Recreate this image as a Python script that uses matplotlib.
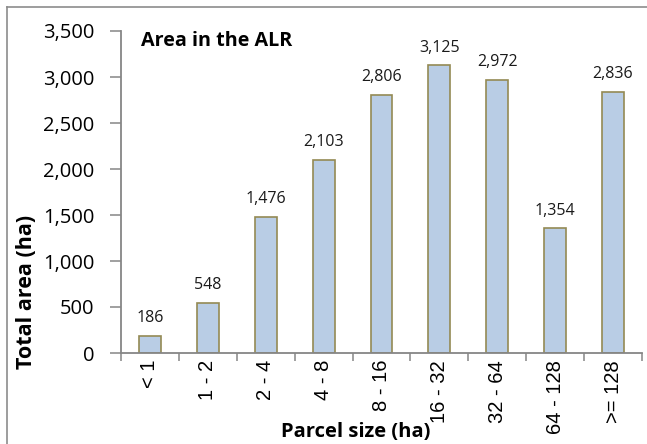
import matplotlib.pyplot as plt
from matplotlib.lines import Line2D

# Chart data
parcel_sizes = ['< 1', '1 - 2', '2 - 4', '4 - 8', '8 - 16', '16 - 32', '32 - 64', '64 - 128', '>= 128']
total_area = [186, 548, 1476, 2103, 2806, 3125, 2972, 1354, 2836]
y_ticks = [0, 500, 1000, 1500, 2000, 2500, 3000, 3500]

W, H = 647, 444
fig = plt.figure(figsize=(W / 100, H / 100), dpi=100)
ax = fig.add_axes([121 / W, 1 - 353 / H, (642 - 121) / W, (353 - 31) / H])

x = list(range(len(parcel_sizes)))
bars = ax.bar(x, total_area, width=0.38, color='#B9CDE5', edgecolor='#948A54', linewidth=1.2)

# Value labels on top of the bars
for xi, v in zip(x, total_area):
    ax.annotate(f'{v:,}', (xi, v), xytext=(0, 7), textcoords='offset points',
                ha='center', va='bottom', fontsize=11.5, family='Open Sans', color='#1a1a1a')

ax.set_xlim(-0.5, len(parcel_sizes) - 0.5)
ax.set_ylim(0, 3500)

# y axis
ax.set_yticks(y_ticks)
ax.set_yticklabels([f'{t:,}' for t in y_ticks], family='Open Sans', fontsize=14.5)
ax.tick_params(axis='y', direction='out', length=8, width=1.1, color='#868686', pad=11)

# x axis: labels at centers, ticks at boundaries
ax.set_xticks(x)
ax.set_xticklabels(parcel_sizes, rotation=90, family='Liberation Sans', fontsize=14.5)
ax.tick_params(axis='x', which='major', length=0, pad=5)
ax.set_xticks([i + 0.5 for i in range(-1, len(parcel_sizes))], minor=True)
ax.tick_params(axis='x', which='minor', direction='out', length=6, width=1.1, color='#868686')

for side in ['top', 'right']:
    ax.spines[side].set_visible(False)
for side in ['left', 'bottom']:
    ax.spines[side].set_color('#868686')
    ax.spines[side].set_linewidth(1.3)

# Titles
ax.text(141 / W, 1 - 41 / H, 'Area in the ALR', transform=fig.transFigure,
        ha='left', va='center', fontsize=14.2, fontweight='bold', family='Open Sans')
fig.text(27 / W, 1 - 292 / H, 'Total area (ha)', rotation=90, ha='center', va='center',
         fontsize=15.5, fontweight='bold', family='Open Sans')
fig.text(356 / W, 1 - 432 / H, 'Parcel size (ha)', ha='center', va='center',
         fontsize=14.5, fontweight='bold', family='Open Sans')

# Chart border (left and top edges visible)
fig.add_artist(Line2D([7 / W, 7 / W], [0, 1 - 7 / H], transform=fig.transFigure, color='#8c8c8c', lw=1.2))
fig.add_artist(Line2D([7 / W, 1], [1 - 7 / H, 1 - 7 / H], transform=fig.transFigure, color='#8c8c8c', lw=1.2))

fig.savefig('out.png', dpi=100)
